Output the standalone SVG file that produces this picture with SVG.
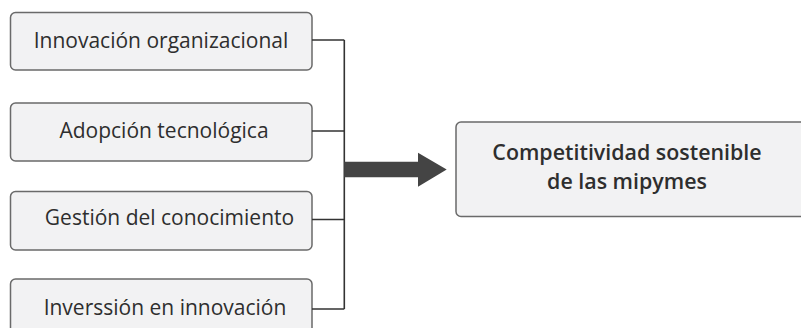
<svg xmlns="http://www.w3.org/2000/svg" width="801" height="328" viewBox="0 0 801 328">
<style>
.box{fill:#f2f2f3;stroke:#6a6a6a;stroke-width:1.5}
.lbl{font-family:"Open Sans","Noto Sans",sans-serif;font-size:21px;fill:#2e2e2e;text-anchor:middle}
.big{font-family:"Open Sans","Noto Sans",sans-serif;font-size:21.4px;font-weight:600;fill:#2e2e2e;text-anchor:middle}
.con{fill:none;stroke:#333;stroke-width:1.6}
</style>
<rect width="801" height="328" fill="#fff"/>
<g id="n1"><rect class="box" x="10.5" y="12.5" width="301.5" height="57.5" rx="5"/><text class="lbl" x="161" y="48">Innovación organizacional</text></g>
<g id="n2"><rect class="box" x="10.5" y="103" width="301.5" height="58" rx="5"/><text class="lbl" x="164" y="138">Adopción tecnológica</text></g>
<g id="n3"><rect class="box" x="10.5" y="191.5" width="301.5" height="58.5" rx="5"/><text class="lbl" x="169.5" y="225">Gestión del conocimiento</text></g>
<g id="n4"><rect class="box" x="10.5" y="279" width="301.5" height="60" rx="5"/><text class="lbl" x="165" y="315">Inverssión en innovación</text></g>
<g id="n5"><rect class="box" x="456" y="122" width="360" height="94.5" rx="5"/><text class="big" x="627" y="160">Competitividad sostenible</text><text class="big" x="627" y="189">de las mipymes</text></g>
<g id="connectors">
<path class="con" d="M312 40H344.3M312 131H344.3M312 219.5H344.3M312 309H344.3M344.3 40V309"/>
<polygon points="344.3,161.7 418,161.7 418,152.7 446.7,169.5 418,186.7 418,177.3 344.3,177.3" fill="#444"/>
</g>
</svg>
